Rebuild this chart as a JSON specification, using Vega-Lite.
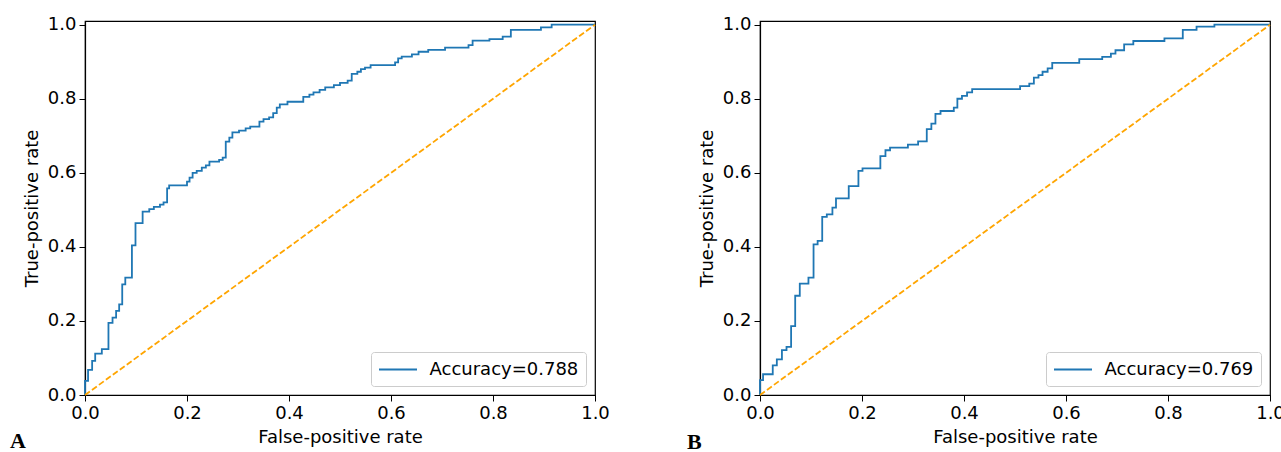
{
  "$schema": "https://vega.github.io/schema/vega-lite/v6.json",
  "background": "white",
  "padding": {"left": 9, "top": 15, "right": 0, "bottom": 0},
  "datasets": {
    "diag": [{"fpr": 0, "tpr": 0}, {"fpr": 1, "tpr": 1}],
    "rocA": [
      {"fpr": 0, "tpr": 0}, {"fpr": 0, "tpr": 0.038}, {"fpr": 0.006, "tpr": 0.068}, {"fpr": 0.014, "tpr": 0.092},
      {"fpr": 0.02, "tpr": 0.112}, {"fpr": 0.033, "tpr": 0.124}, {"fpr": 0.046, "tpr": 0.195}, {"fpr": 0.054, "tpr": 0.209},
      {"fpr": 0.061, "tpr": 0.227}, {"fpr": 0.067, "tpr": 0.245}, {"fpr": 0.073, "tpr": 0.299}, {"fpr": 0.079, "tpr": 0.317},
      {"fpr": 0.092, "tpr": 0.404}, {"fpr": 0.099, "tpr": 0.464}, {"fpr": 0.113, "tpr": 0.495}, {"fpr": 0.126, "tpr": 0.502},
      {"fpr": 0.135, "tpr": 0.508}, {"fpr": 0.147, "tpr": 0.514}, {"fpr": 0.154, "tpr": 0.52}, {"fpr": 0.161, "tpr": 0.558},
      {"fpr": 0.165, "tpr": 0.566}, {"fpr": 0.2, "tpr": 0.576}, {"fpr": 0.205, "tpr": 0.587}, {"fpr": 0.211, "tpr": 0.6},
      {"fpr": 0.219, "tpr": 0.605}, {"fpr": 0.229, "tpr": 0.614}, {"fpr": 0.237, "tpr": 0.62}, {"fpr": 0.244, "tpr": 0.63},
      {"fpr": 0.263, "tpr": 0.635}, {"fpr": 0.27, "tpr": 0.641}, {"fpr": 0.276, "tpr": 0.684}, {"fpr": 0.283, "tpr": 0.695},
      {"fpr": 0.289, "tpr": 0.709}, {"fpr": 0.302, "tpr": 0.714}, {"fpr": 0.315, "tpr": 0.72}, {"fpr": 0.324, "tpr": 0.725},
      {"fpr": 0.342, "tpr": 0.738}, {"fpr": 0.35, "tpr": 0.745}, {"fpr": 0.361, "tpr": 0.75}, {"fpr": 0.369, "tpr": 0.761},
      {"fpr": 0.376, "tpr": 0.776}, {"fpr": 0.382, "tpr": 0.785}, {"fpr": 0.397, "tpr": 0.792}, {"fpr": 0.428, "tpr": 0.805},
      {"fpr": 0.44, "tpr": 0.811}, {"fpr": 0.448, "tpr": 0.817}, {"fpr": 0.46, "tpr": 0.824}, {"fpr": 0.471, "tpr": 0.831},
      {"fpr": 0.488, "tpr": 0.837}, {"fpr": 0.5, "tpr": 0.843}, {"fpr": 0.515, "tpr": 0.849}, {"fpr": 0.523, "tpr": 0.867},
      {"fpr": 0.534, "tpr": 0.873}, {"fpr": 0.541, "tpr": 0.88}, {"fpr": 0.549, "tpr": 0.884}, {"fpr": 0.56, "tpr": 0.891},
      {"fpr": 0.608, "tpr": 0.898}, {"fpr": 0.614, "tpr": 0.909}, {"fpr": 0.621, "tpr": 0.914}, {"fpr": 0.641, "tpr": 0.92},
      {"fpr": 0.654, "tpr": 0.927}, {"fpr": 0.673, "tpr": 0.932}, {"fpr": 0.706, "tpr": 0.938}, {"fpr": 0.752, "tpr": 0.945},
      {"fpr": 0.76, "tpr": 0.957}, {"fpr": 0.793, "tpr": 0.961}, {"fpr": 0.819, "tpr": 0.968}, {"fpr": 0.835, "tpr": 0.986},
      {"fpr": 0.894, "tpr": 0.993}, {"fpr": 0.915, "tpr": 1.0}, {"fpr": 1.0, "tpr": 1.0}
    ],
    "rocB": [
      {"fpr": 0, "tpr": 0}, {"fpr": 0, "tpr": 0.04}, {"fpr": 0.006, "tpr": 0.056}, {"fpr": 0.025, "tpr": 0.08},
      {"fpr": 0.033, "tpr": 0.096}, {"fpr": 0.043, "tpr": 0.121}, {"fpr": 0.052, "tpr": 0.13}, {"fpr": 0.061, "tpr": 0.186},
      {"fpr": 0.069, "tpr": 0.268}, {"fpr": 0.078, "tpr": 0.301}, {"fpr": 0.095, "tpr": 0.317}, {"fpr": 0.105, "tpr": 0.407},
      {"fpr": 0.113, "tpr": 0.416}, {"fpr": 0.122, "tpr": 0.481}, {"fpr": 0.131, "tpr": 0.488}, {"fpr": 0.142, "tpr": 0.506},
      {"fpr": 0.149, "tpr": 0.531}, {"fpr": 0.174, "tpr": 0.564}, {"fpr": 0.193, "tpr": 0.605}, {"fpr": 0.201, "tpr": 0.612},
      {"fpr": 0.236, "tpr": 0.645}, {"fpr": 0.246, "tpr": 0.661}, {"fpr": 0.255, "tpr": 0.668}, {"fpr": 0.29, "tpr": 0.676},
      {"fpr": 0.31, "tpr": 0.685}, {"fpr": 0.327, "tpr": 0.718}, {"fpr": 0.336, "tpr": 0.733}, {"fpr": 0.344, "tpr": 0.759},
      {"fpr": 0.354, "tpr": 0.767}, {"fpr": 0.38, "tpr": 0.776}, {"fpr": 0.387, "tpr": 0.8}, {"fpr": 0.396, "tpr": 0.808},
      {"fpr": 0.406, "tpr": 0.817}, {"fpr": 0.416, "tpr": 0.826}, {"fpr": 0.51, "tpr": 0.834}, {"fpr": 0.528, "tpr": 0.841},
      {"fpr": 0.537, "tpr": 0.857}, {"fpr": 0.546, "tpr": 0.864}, {"fpr": 0.554, "tpr": 0.873}, {"fpr": 0.564, "tpr": 0.882},
      {"fpr": 0.573, "tpr": 0.897}, {"fpr": 0.626, "tpr": 0.907}, {"fpr": 0.671, "tpr": 0.913}, {"fpr": 0.688, "tpr": 0.922},
      {"fpr": 0.697, "tpr": 0.931}, {"fpr": 0.714, "tpr": 0.947}, {"fpr": 0.732, "tpr": 0.956}, {"fpr": 0.793, "tpr": 0.963},
      {"fpr": 0.829, "tpr": 0.986}, {"fpr": 0.856, "tpr": 0.995}, {"fpr": 0.891, "tpr": 1.0}, {"fpr": 1.0, "tpr": 1.0}
    ]
  },
  "hconcat": [
    {
      "width": 510,
      "height": 374,
      "title": {"text": "A", "orient": "bottom", "anchor": "start", "frame": "group", "font": "Liberation Serif", "fontSize": 22, "fontWeight": "bold", "color": "#000", "dx": -75, "offset": -15},
      "layer": [
        {
          "data": {"name": "rocA"},
          "mark": {"type": "line", "interpolate": "step-after", "strokeWidth": 1.8},
          "encoding": {
            "x": {"field": "fpr", "type": "quantitative", "scale": {"domain": [0, 1], "nice": false}, "axis": {"title": "False-positive rate", "values": [0, 0.2, 0.4, 0.6, 0.8, 1.0], "format": ".1f", "labelFlush": false}},
            "y": {"field": "tpr", "type": "quantitative", "scale": {"domain": [0, 1.01], "nice": false}, "axis": {"title": "True-positive rate", "values": [0, 0.2, 0.4, 0.6, 0.8, 1.0], "format": ".1f", "labelFlush": false}},
            "color": {"datum": "Accuracy=0.788", "type": "nominal", "scale": {"range": ["#1f77b4"]},
              "legend": {"orient": "bottom-right", "title": null, "offset": 9, "fillColor": "white", "strokeColor": "#cccccc", "cornerRadius": 3, "padding": 7, "symbolType": "M-2,0L2,0", "symbolSize": 361, "symbolOffset": 9.5, "symbolStrokeWidth": 1.8, "labelFontSize": 18, "labelFont": "DejaVu Sans", "labelColor": "#000", "labelOffset": 21}}
          }
        },
        {
          "data": {"name": "diag"},
          "mark": {"type": "line", "color": "orange", "strokeDash": [6, 2.6], "strokeWidth": 1.8},
          "encoding": {
            "x": {"field": "fpr", "type": "quantitative"},
            "y": {"field": "tpr", "type": "quantitative"}
          }
        }
      ]
    },
    {
      "width": 510,
      "height": 374,
      "title": {"text": "B", "orient": "bottom", "anchor": "start", "frame": "group", "font": "Liberation Serif", "fontSize": 22, "fontWeight": "bold", "color": "#000", "dx": -73, "offset": -14},
      "layer": [
        {
          "data": {"name": "rocB"},
          "mark": {"type": "line", "interpolate": "step-after", "strokeWidth": 1.8},
          "encoding": {
            "x": {"field": "fpr", "type": "quantitative", "scale": {"domain": [0, 1], "nice": false}, "axis": {"title": "False-positive rate", "values": [0, 0.2, 0.4, 0.6, 0.8, 1.0], "format": ".1f", "labelFlush": false}},
            "y": {"field": "tpr", "type": "quantitative", "scale": {"domain": [0, 1.01], "nice": false}, "axis": {"title": "True-positive rate", "values": [0, 0.2, 0.4, 0.6, 0.8, 1.0], "format": ".1f", "labelFlush": false}},
            "color": {"datum": "Accuracy=0.769", "type": "nominal", "scale": {"range": ["#1f77b4"]},
              "legend": {"orient": "bottom-right", "title": null, "offset": 9, "fillColor": "white", "strokeColor": "#cccccc", "cornerRadius": 3, "padding": 7, "symbolType": "M-2,0L2,0", "symbolSize": 361, "symbolOffset": 9.5, "symbolStrokeWidth": 1.8, "labelFontSize": 18, "labelFont": "DejaVu Sans", "labelColor": "#000", "labelOffset": 21}}
          }
        },
        {
          "data": {"name": "diag"},
          "mark": {"type": "line", "color": "orange", "strokeDash": [6, 2.6], "strokeWidth": 1.8},
          "encoding": {
            "x": {"field": "fpr", "type": "quantitative"},
            "y": {"field": "tpr", "type": "quantitative"}
          }
        }
      ]
    }
  ],
  "spacing": 165,
  "bounds": "flush",
  "resolve": {"scale": {"color": "independent", "x": "independent", "y": "independent"}, "legend": {"color": "independent"}},
  "config": {
    "view": {"stroke": "#000", "strokeWidth": 1.2},
    "axis": {"domainColor": "#000", "tickColor": "#000", "labelColor": "#000", "titleColor": "#000", "labelFont": "DejaVu Sans", "titleFont": "DejaVu Sans", "labelFontSize": 18, "titleFontSize": 18, "titleFontWeight": "normal", "grid": false, "tickSize": 6, "labelPadding": 3, "titlePadding": 6, "domainWidth": 1.2, "tickWidth": 1}
  }
}
